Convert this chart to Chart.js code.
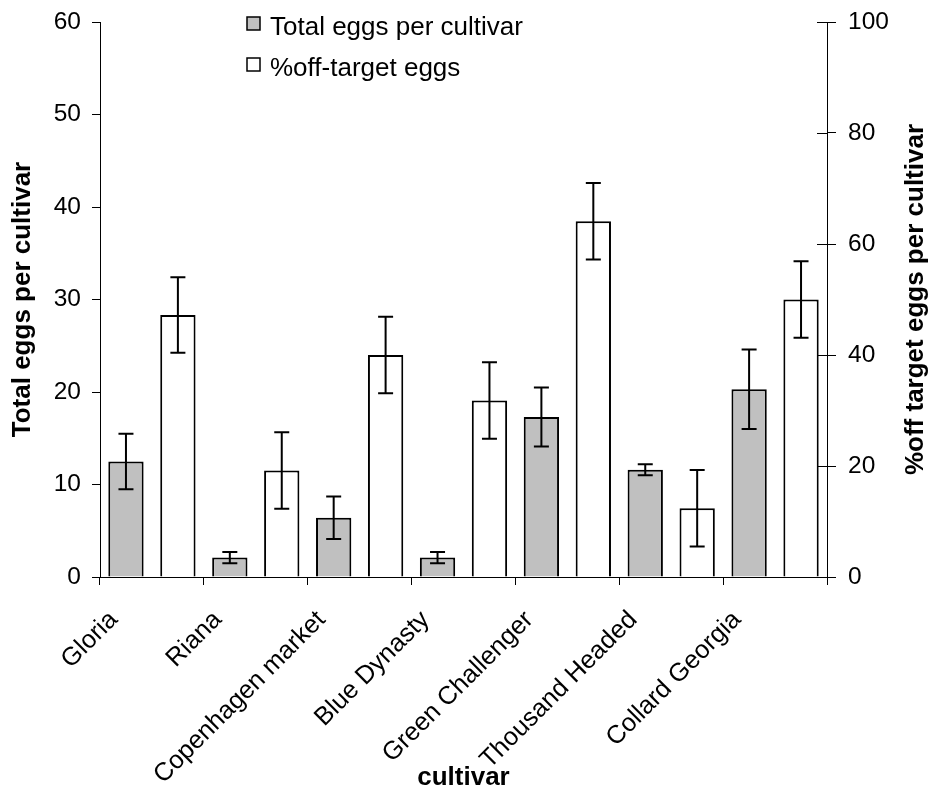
<!DOCTYPE html>
<html>
<head>
<meta charset="utf-8">
<script src="https://cdn.jsdelivr.net/npm/chart.js@4.4.0/dist/chart.umd.min.js"></script>
<style>
  html, body { margin: 0; padding: 0; background: #fff; }
  canvas { display: block; }
</style>
</head>
<body>
<canvas id="huevosCultivar" width="931" height="794"></canvas>
<script>
// datos
const cultivares = ['Gloria', 'Riana', 'Copenhagen market', 'Blue Dynasty', 'Green Challenger', 'Thousand Headed', 'Collard Georgia'];
const huevosTotales = [12.5, 2.1, 6.4, 2.1, 17.3, 11.6, 20.3];
const huevosTotalesError = [3.0, 0.6, 2.3, 0.6, 3.2, 0.6, 4.3];
const porcentajeFuera = [47.2, 19.2, 40.0, 31.8, 64.1, 12.4, 50.0];
const porcentajeFueraError = [6.8, 6.9, 6.9, 6.9, 6.9, 6.9, 6.9];
const ejeIzqMax = 60, ejeIzqPaso = 10;
const ejeDerMax = 100, ejeDerPaso = 20;

const fuente = 'Liberation Sans, Arial, sans-serif';
Chart.defaults.font.family = fuente;
Chart.defaults.color = '#000';

// barras de error (no vienen en Chart.js)
const barrasError = {
  id: 'barrasError',
  afterDatasetsDraw(chart) {
    const ctx = chart.ctx;
    chart.data.datasets.forEach((ds, i) => {
      const meta = chart.getDatasetMeta(i);
      const escala = chart.scales[ds.yAxisID];
      ctx.save();
      ctx.strokeStyle = '#000';
      ctx.lineWidth = 2;
      meta.data.forEach((barra, j) => {
        const v = ds.data[j], e = ds.errores[j];
        const yArriba = escala.getPixelForValue(v + e);
        const yAbajo = escala.getPixelForValue(v - e);
        ctx.beginPath();
        ctx.moveTo(barra.x, yArriba); ctx.lineTo(barra.x, yAbajo);
        ctx.moveTo(barra.x - 7.5, yArriba); ctx.lineTo(barra.x + 7.5, yArriba);
        ctx.moveTo(barra.x - 7.5, yAbajo); ctx.lineTo(barra.x + 7.5, yAbajo);
        ctx.stroke();
      });
      ctx.restore();
    });
  }
};

// leyenda dentro del área, marcas internas del eje derecho y su título
const extras = {
  id: 'extras',
  afterDraw(chart) {
    const ctx = chart.ctx;
    ctx.save();
    // leyenda
    ctx.font = '26px ' + fuente;
    ctx.textBaseline = 'alphabetic';
    ctx.textAlign = 'left';
    chart.data.datasets.forEach((ds, i) => {
      const y = 17 + i * 41;
      ctx.fillStyle = ds.backgroundColor;
      ctx.fillRect(247, y, 13, 13);
      ctx.strokeStyle = '#000';
      ctx.lineWidth = 1.5;
      ctx.strokeRect(247, y, 13, 13);
      ctx.fillStyle = '#000';
      ctx.fillText(ds.label, 270, y + 18);
    });
    // marcas hacia adentro del eje derecho
    const der = chart.scales.y1;
    ctx.strokeStyle = '#000';
    ctx.lineWidth = 1;
    der.ticks.forEach((t, i) => {
      const y = Math.round(der.getPixelForTick(i)) + 0.5;
      ctx.beginPath();
      ctx.moveTo(der.left - 10, y);
      ctx.lineTo(der.left, y);
      ctx.stroke();
    });
    // título del eje derecho, leído de abajo hacia arriba como en Excel
    ctx.translate(916, (chart.chartArea.top + chart.chartArea.bottom) / 2);
    ctx.rotate(-Math.PI / 2);
    ctx.font = 'bold 26px ' + fuente;
    ctx.textAlign = 'center';
    ctx.textBaseline = 'middle';
    ctx.fillText('%off target eggs per cultivar', 0, 0);
    ctx.restore();
  }
};

new Chart(document.getElementById('huevosCultivar'), {
  type: 'bar',
  data: {
    labels: cultivares,
    datasets: [
      { label: 'Total eggs per cultivar', data: huevosTotales, errores: huevosTotalesError, yAxisID: 'y',
        backgroundColor: '#c0c0c0', borderColor: '#000', borderWidth: 2 },
      { label: '%off-target eggs', data: porcentajeFuera, errores: porcentajeFueraError, yAxisID: 'y1',
        backgroundColor: '#ffffff', borderColor: '#000', borderWidth: 2 }
    ]
  },
  options: {
    responsive: false,
    animation: false,
    categoryPercentage: 1,
    barPercentage: 0.68,
    layout: { padding: { top: 22, left: 0, right: 0, bottom: 0 } },
    plugins: {
      legend: { display: false },
      tooltip: { enabled: false }
    },
    scales: {
      x: {
        grid: { offset: true, drawOnChartArea: false, drawTicks: true, tickLength: 8, color: '#000' },
        border: { color: '#000', width: 1 },
        ticks: { autoSkip: false, maxRotation: 45, minRotation: 45, labelOffset: -38, padding: 20, font: { size: 25.5 } },
        title: { display: true, text: 'cultivar', font: { size: 26, weight: 'bold' }, padding: { top: 0, bottom: 1 } },
        afterFit: (s) => { s.height = 217; s.paddingLeft = 0; s.paddingRight = 0; }
      },
      y: {
        position: 'left',
        min: 0, max: ejeIzqMax,
        grid: { drawOnChartArea: false, drawTicks: true, tickLength: 8, color: '#000' },
        border: { color: '#000', width: 1 },
        ticks: { stepSize: ejeIzqPaso, padding: 11, font: { size: 24.5 } },
        title: { display: true, text: 'Total eggs per cultivar', font: { size: 26, weight: 'bold' }, padding: { top: 7, bottom: 0 } },
        afterFit: (s) => { s.width = 100; s.paddingTop = 0; s.paddingBottom = 0; }
      },
      y1: {
        position: 'right',
        min: 0, max: ejeDerMax,
        grid: { drawOnChartArea: false, drawTicks: true, tickLength: 9, color: '#000' },
        border: { color: '#000', width: 1 },
        ticks: { stepSize: ejeDerPaso, padding: 12, font: { size: 24.5 } },
        afterFit: (s) => { s.width = 104; s.paddingTop = 0; s.paddingBottom = 0; }
      }
    }
  },
  plugins: [barrasError, extras]
});
</script>
</body>
</html>
